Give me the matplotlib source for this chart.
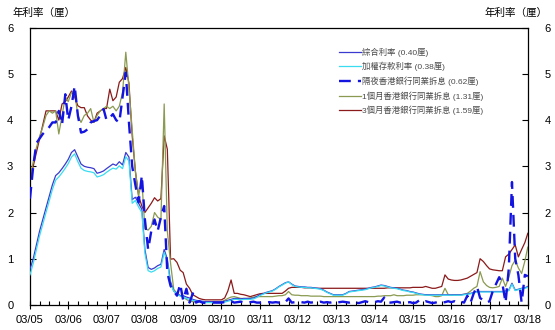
import pandas as pd
import matplotlib
matplotlib.use('Agg')
import matplotlib.pyplot as plt
import matplotlib.dates as mdates

plt.rcParams['font.family'] = ['Liberation Sans', 'Noto Sans CJK TC']

# monthly, 03/2005 .. 03/2018
months = pd.date_range('2005-03-01', '2018-03-01', freq='MS')

composite = [
    0.77, 1.0, 1.3, 1.6, 1.85, 2.1, 2.35, 2.6, 2.8, 2.86, 2.95, 3.05,
    3.15, 3.3, 3.36, 3.2, 3.05, 3.0, 2.98, 2.97, 2.95, 2.85, 2.87, 2.9,
    2.95, 3.0, 3.05, 3.02, 3.1, 3.03, 3.3, 3.2, 2.28, 2.33, 2.2, 2.07,
    1.2, 0.81, 0.77, 0.8, 0.85, 0.88, 1.2, 0.99, 0.5, 0.3, 0.25, 0.2,
    0.2, 0.17, 0.15, 0.12, 0.1, 0.09, 0.08, 0.07, 0.07, 0.07, 0.07, 0.07,
    0.07, 0.08, 0.1, 0.12, 0.14, 0.14, 0.13, 0.14, 0.14, 0.14, 0.15, 0.18,
    0.22, 0.24, 0.27, 0.29, 0.31, 0.35, 0.4, 0.44, 0.48, 0.5, 0.45, 0.41,
    0.4, 0.39, 0.39, 0.38, 0.38, 0.37, 0.36, 0.35, 0.32, 0.28, 0.25, 0.22,
    0.22, 0.22, 0.22, 0.25, 0.29, 0.3, 0.31, 0.32, 0.33, 0.34, 0.36, 0.38,
    0.39, 0.41, 0.43, 0.42, 0.4, 0.38, 0.37, 0.36, 0.34, 0.32, 0.31, 0.29,
    0.28, 0.26, 0.24, 0.23, 0.22, 0.22, 0.22, 0.22, 0.22, 0.22, 0.22, 0.22,
    0.22, 0.22, 0.22, 0.22, 0.23, 0.24, 0.25, 0.27, 0.29, 0.29, 0.29, 0.29,
    0.29, 0.29, 0.29, 0.29, 0.29, 0.3, 0.32, 0.47, 0.32, 0.34, 0.36, 0.37,
    0.40]

deposit = [
    0.65, 0.9, 1.2, 1.5, 1.75, 2.0, 2.25, 2.5, 2.7, 2.77, 2.86, 2.96,
    3.06, 3.2, 3.27, 3.1, 2.96, 2.91, 2.89, 2.88, 2.86, 2.77, 2.79, 2.82,
    2.87, 2.92, 2.96, 2.94, 3.01, 2.95, 3.21, 3.11, 2.2, 2.26, 2.12, 2.0,
    1.12, 0.74, 0.71, 0.74, 0.79, 0.82, 1.14, 0.93, 0.45, 0.3, 0.24, 0.19,
    0.17, 0.14, 0.12, 0.1, 0.08, 0.07, 0.06, 0.05, 0.05, 0.05, 0.05, 0.05,
    0.05, 0.06, 0.08, 0.1, 0.12, 0.12, 0.11, 0.12, 0.12, 0.12, 0.13, 0.16,
    0.2, 0.23, 0.26, 0.28, 0.3, 0.34, 0.39, 0.43, 0.47, 0.5, 0.44, 0.4,
    0.39, 0.38, 0.38, 0.37, 0.37, 0.36, 0.35, 0.34, 0.31, 0.27, 0.24, 0.21,
    0.21, 0.21, 0.21, 0.24, 0.28, 0.29, 0.3, 0.31, 0.32, 0.33, 0.35, 0.37,
    0.38, 0.4, 0.42, 0.41, 0.39, 0.37, 0.36, 0.35, 0.33, 0.31, 0.3, 0.28,
    0.27, 0.25, 0.23, 0.22, 0.21, 0.21, 0.21, 0.21, 0.21, 0.21, 0.21, 0.21,
    0.21, 0.21, 0.21, 0.21, 0.22, 0.23, 0.24, 0.26, 0.28, 0.28, 0.28, 0.28,
    0.28, 0.28, 0.28, 0.28, 0.28, 0.29, 0.31, 0.45, 0.31, 0.33, 0.35, 0.36,
    0.38]

overnight = [
    2.3, 3.0, 3.5, 3.6, 3.7, 3.77, 3.85, 3.95, 3.95, 4.2, 3.9, 4.56,
    4.0, 4.3, 4.74, 4.1, 3.73, 3.75, 3.8, 3.95, 3.98, 4.0, 4.1, 4.24,
    4.0, 4.05, 4.13, 4.0, 3.95, 4.5, 5.03, 3.95, 3.0, 2.6, 2.22, 2.8,
    1.85, 1.2, 1.6, 1.85, 1.6, 1.9, 2.14, 0.7, 0.41, 0.3, 0.2, 0.45,
    0.1, 0.35, 0.05, 0.25, 0.05, 0.08, 0.05, 0.04, 0.04, 0.05, 0.05, 0.05,
    0.05, 0.06, 0.05, 0.08, 0.05, 0.06, 0.07, 0.05, 0.05, 0.06, 0.07, 0.05,
    0.05, 0.06, 0.05, 0.06, 0.05, 0.06, 0.05, 0.08, 0.06, 0.14, 0.05, 0.06,
    0.05, 0.06, 0.05, 0.07, 0.05, 0.06, 0.05, 0.07, 0.05, 0.06, 0.05, 0.07,
    0.05, 0.06, 0.07, 0.06, 0.05, 0.07, 0.05, 0.04, 0.06, 0.08, 0.06, 0.05,
    0.06, 0.08, 0.07, 0.16, 0.06, 0.05, 0.06, 0.07, 0.05, 0.06, 0.05, 0.06,
    0.04, 0.05, 0.1, 0.06, 0.08, 0.06, 0.04, 0.05, 0.07, 0.05, 0.06, 0.08,
    0.06, 0.08, 0.05, 0.07, 0.05, 0.2, 0.05, 0.25, 0.4, 0.15, 0.1, 0.05,
    0.08, 0.3, 0.45, 0.6, 0.47, 0.05, 0.8, 2.66, 1.0, 0.65, 0.05, 0.65,
    0.62]

hibor_1m = [
    2.75, 3.1, 3.4, 3.65, 3.85, 4.1, 4.2, 4.15, 4.2, 3.7, 4.1, 4.5,
    4.4, 4.6, 4.6, 4.1, 3.95, 4.1, 4.15, 4.25, 3.95, 4.1, 4.2, 4.25,
    4.3, 4.25, 4.3, 4.2, 4.3, 4.6, 5.47, 4.7, 3.8, 2.9, 2.36, 2.7,
    1.65, 1.62, 1.7, 2.0, 1.9, 1.85, 4.35, 1.6, 0.9, 0.34, 0.25, 0.2,
    0.17, 0.12, 0.08, 0.07, 0.07, 0.07, 0.07, 0.07, 0.07, 0.07, 0.07, 0.07,
    0.07, 0.1, 0.14, 0.17, 0.18, 0.16, 0.14, 0.14, 0.14, 0.15, 0.17, 0.18,
    0.18, 0.18, 0.18, 0.18, 0.18, 0.19, 0.2, 0.2, 0.22, 0.29, 0.22, 0.21,
    0.21, 0.2, 0.2, 0.2, 0.19, 0.19, 0.19, 0.19, 0.18, 0.18, 0.18, 0.18,
    0.18, 0.18, 0.18, 0.18, 0.18, 0.18, 0.18, 0.18, 0.18, 0.18, 0.18, 0.18,
    0.18, 0.19, 0.19, 0.2, 0.2, 0.2, 0.22, 0.2, 0.2, 0.2, 0.21, 0.21,
    0.21, 0.22, 0.22, 0.22, 0.22, 0.21, 0.2, 0.18, 0.18, 0.2, 0.36, 0.22,
    0.21, 0.22, 0.22, 0.22, 0.23, 0.25, 0.3, 0.36, 0.4, 0.72, 0.5, 0.42,
    0.38, 0.37, 0.38, 0.4, 0.58, 0.4, 0.6, 0.85, 0.97, 0.8, 0.68, 0.95,
    1.25]

hibor_3m = [
    2.7, 3.0, 3.3, 3.6, 3.9, 4.2, 4.2, 4.2, 4.2, 4.0, 4.35, 4.4,
    4.5, 4.63, 4.5, 4.31, 4.27, 4.27, 4.09, 4.0, 3.95, 4.15, 4.2, 4.25,
    4.25, 4.67, 4.42, 4.5, 4.82, 4.9, 5.14, 4.8, 3.66, 2.9, 2.36, 2.14,
    2.0, 2.1, 2.2, 2.32, 2.25, 2.3, 3.66, 3.37, 0.99, 1.0, 0.92, 0.75,
    0.7, 0.45, 0.36, 0.22, 0.18, 0.14, 0.12, 0.11, 0.11, 0.11, 0.11, 0.11,
    0.11, 0.15, 0.3, 0.54, 0.25, 0.25, 0.23, 0.22, 0.2, 0.18, 0.2, 0.22,
    0.24, 0.25, 0.25, 0.25, 0.25, 0.25, 0.25, 0.25, 0.3, 0.36, 0.38, 0.38,
    0.38, 0.38, 0.37, 0.37, 0.37, 0.36, 0.36, 0.36, 0.36, 0.36, 0.36, 0.36,
    0.36, 0.36, 0.36, 0.36, 0.36, 0.36, 0.36, 0.36, 0.36, 0.36, 0.36, 0.36,
    0.36, 0.36, 0.36, 0.36, 0.37, 0.37, 0.37, 0.37, 0.37, 0.37, 0.37, 0.37,
    0.38, 0.38, 0.38, 0.38, 0.4, 0.38, 0.36, 0.36, 0.38, 0.4, 0.65, 0.56,
    0.54, 0.53, 0.53, 0.54, 0.56, 0.58, 0.62, 0.66, 0.7, 1.0, 0.94, 0.85,
    0.78, 0.76, 0.75, 0.74, 0.74, 1.04, 1.1, 1.2, 1.3, 1.04, 1.2, 1.35,
    1.55]

labels = ['綜合利率 (0.40厘)',
          '加權存款利率 (0.38厘)',
          '隔夜香港銀行同業拆息 (0.62厘)',
          '1個月香港銀行同業拆息 (1.31厘)',
          '3個月香港銀行同業拆息 (1.59厘)']

fig = plt.figure(figsize=(5.55, 3.3), dpi=100)
ax = fig.add_axes([0.054, 0.076, 0.897, 0.840])

ax.plot(months, hibor_3m, color='#8b1a1a', lw=0.9, label=labels[4], zorder=2)
ax.plot(months, hibor_1m, color='#8a9a50', lw=0.9, label=labels[3], zorder=2)
ax.plot(months, composite, color='#3a3ad0', lw=0.9, label=labels[0], zorder=3)
ax.plot(months, deposit, color='#3adcf0', lw=0.9, label=labels[1], zorder=3)
ax.plot(months, overnight, color='#1414e0', lw=1.7, dashes=(5, 3), label=labels[2], zorder=4)

ax.set_xlim(months[0], months[-1])
ax.set_ylim(0, 6)
ax.set_yticks(range(0, 7))
ax.xaxis.set_major_locator(mdates.MonthLocator(bymonth=3))
ax.xaxis.set_minor_locator(mdates.MonthLocator(bymonth=[3, 6, 9, 12]))
ax.xaxis.set_major_formatter(mdates.DateFormatter('%m/%y'))

ax.tick_params(axis='x', which='major', direction='inout', length=6, width=0.8, labelsize=8, pad=4)
ax.tick_params(axis='x', which='minor', direction='in', length=3, width=0.8)
ax.tick_params(axis='y', direction='in', length=4, width=0.8, labelsize=8, pad=12,
               right=True, labelright=True)
for s in ax.spines.values():
    s.set_linewidth(0.9)

fig.text(0.022, 0.96, '年利率（厘）', fontsize=7.6, va='center', ha='left')
fig.text(0.987, 0.96, '年利率（厘）', fontsize=7.6, va='center', ha='right')

h, l = ax.get_legend_handles_labels()
order = [2, 3, 4, 1, 0]
leg = ax.legend([h[i] for i in order], [l[i] for i in order],
                loc='upper left', bbox_to_anchor=(0.615, 0.94), frameon=False,
                fontsize=6, handlelength=2.6, handletextpad=0.1, labelspacing=0.62,
                borderaxespad=0)
for t in leg.get_texts():
    t.set_color('#4a4a4a')

fig.savefig('out.png', dpi=100)
